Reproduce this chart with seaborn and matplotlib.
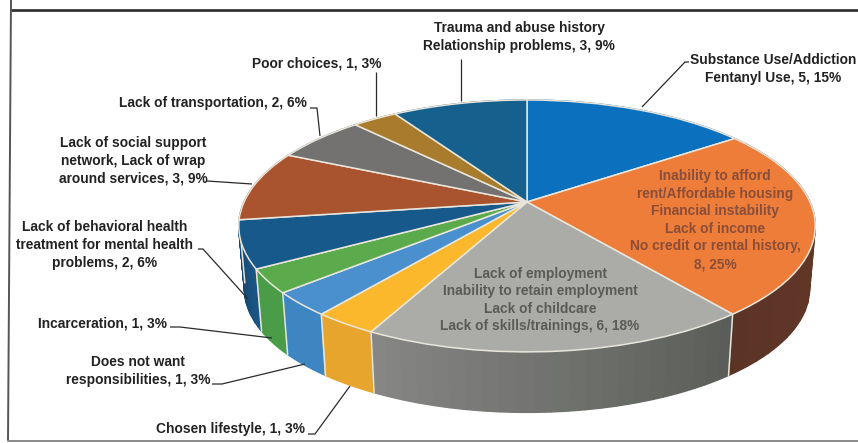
import numpy as np
import matplotlib
matplotlib.use("Agg")
import matplotlib.pyplot as plt
from matplotlib.colors import to_rgb
from matplotlib.transforms import Transform
import seaborn as sns

# Responses per barrier, clockwise from twelve o'clock
counts = [5, 8, 6, 1, 1, 1, 2, 3, 2, 1, 3]

top_colors = ["#0B70BE", "#EE7D3A", "#ABACA8", "#FBB82C", "#4A90CE", "#5BAB4C",
              "#17598A", "#A9532F", "#737270", "#A97C2D", "#15608C"]
# Wall colours at the start and the end of each slice's arc
wall_start = ["#0A5A9A", "#6B3A2A", "#5A5D58", "#E8A52E", "#3E86C2", "#4A9C48",
              "#1B5686", "#7D3F25", "#555555", "#7D5C22", "#104A6C"]
wall_end = ["#0A5A9A", "#5C3426", "#868684", "#E8A52E", "#3E86C2", "#4A9C48",
            "#133F64", "#7D3F25", "#555555", "#7D5C22", "#104A6C"]

outer_labels = [
    "Substance Use/Addiction\nFentanyl Use, 5, 15%",
    "Chosen lifestyle, 1, 3%",
    "Does not want\nresponsibilities, 1, 3%",
    "Incarceration, 1, 3%",
    "Lack of behavioral health\ntreatment for mental health\nproblems, 2, 6%",
    "Lack of social support\nnetwork, Lack of wrap\naround services, 3, 9%",
    "Lack of transportation, 2, 6%",
    "Poor choices, 1, 3%",
    "Trauma and abuse history\nRelationship problems, 3, 9%",
]
outer_label_xy = [(773, 69), (231, 429), (138, 371), (102, 323), (105, 245),
                  (133, 161), (213, 103), (317, 63), (519, 37)]
leader_lines = [
    [(689, 62), (685, 62), (642, 107)],
    [(308, 434), (315, 434), (350, 386)],
    [(212, 384), (222, 384), (305, 364)],
    [(170, 327), (180, 327), (272, 338)],
    [(198, 249), (203, 249), (248, 299)],
    [(207, 181), (252, 184)],
    [(310, 108), (317, 108), (320, 136)],
    [(376, 72), (376, 116)],
    [(461, 59), (461, 101)],
]

orange_label = ("Inability to afford\nrent/Affordable housing\nFinancial instability\n"
                "Lack of income\nNo credit or rental history,\n8, 25%")
gray_label = ("Lack of employment\nInability to retain employment\n"
              "Lack of childcare\nLack of skills/trainings, 6, 18%")

APEX = (527.0, 202.0)
WIDTH, NEAR, FAR_TILT = 283.0, 121.4, 0.19
DEPTH, BASE_SCALE = 63.5, 0.98
LABEL_SIZE = 9.9


class TiltedDisc(Transform):
    """Maps the unit disc onto a receding plane, in figure-pixel data units."""
    input_dims = output_dims = 2

    def __init__(self, scale=1.0, drop=0.0):
        super().__init__()
        self.scale, self.drop = scale, drop

    def transform_non_affine(self, values):
        values = np.asarray(values, dtype=float)
        u, v = values[:, 0], values[:, 1]
        w = 1 + FAR_TILT * v
        return np.column_stack((APEX[0] + self.scale * WIDTH * u / w,
                                APEX[1] + self.drop - self.scale * NEAR * v / w))


sns.set_theme(style="white")
plt.rcParams["font.family"] = ["Liberation Sans", "DejaVu Sans"]

fig = plt.figure(figsize=(8.58, 4.43), dpi=100, facecolor="white")
ax = fig.add_axes([0, 0, 1, 1])

rim = "#E9E6DC"
wedges, _ = ax.pie(counts, colors=sns.color_palette(top_colors), startangle=90,
                   counterclock=False,
                   wedgeprops=dict(edgecolor=rim, linewidth=1.1, zorder=5))
ax.set_aspect("auto")
ax.set_xlim(0, 858)
ax.set_ylim(443, 0)
ax.set_axis_off()

top_plane = TiltedDisc()
base_plane = TiltedDisc(BASE_SCALE, DEPTH)
for wedge in wedges:
    wedge.set_transform(top_plane + ax.transData)

# Side wall: strips along each slice's arc, painted back to front
strips = []
for wedge, c0, c1 in zip(wedges, wall_start, wall_end):
    # Clockwise slices run from theta2 down to theta1
    steps = 24 if c0 != c1 else 2
    edges = np.linspace(wedge.theta2, wedge.theta1, steps)
    shades = np.linspace(0, 1, steps - 1)
    for a, b, f in zip(edges[:-1], edges[1:], shades):
        strips.append((a, b, (1 - f) * np.array(to_rgb(c0)) + f * np.array(to_rgb(c1))))
strips.sort(key=lambda s: -np.sin(np.radians(0.5 * (s[0] + s[1]))))

for a, b, color in strips:
    t = np.radians(np.linspace(a, b, 40))
    ring = np.column_stack((np.cos(t), np.sin(t)))
    upper = top_plane.transform_non_affine(ring)
    lower = base_plane.transform_non_affine(ring)[::-1]
    outline = np.vstack((upper, lower))
    ax.fill(outline[:, 0], outline[:, 1], facecolor=color, edgecolor=color,
            lw=1.0, zorder=2)

# Pale seams where neighbouring slices meet on the visible part of the wall
for wedge in wedges:
    t = np.radians(wedge.theta1)
    if np.sin(t) < -0.05:
        point = np.array([[np.cos(t), np.sin(t)]])
        p0 = top_plane.transform_non_affine(point)[0]
        p1 = base_plane.transform_non_affine(point)[0]
        ax.plot([p0[0], p1[0]], [p0[1], p1[1]], color=rim, lw=1.1, zorder=3)

# Callout labels and their leader lines
for text, (x, y) in zip(outer_labels, outer_label_xy):
    ax.text(x, y, text, ha="center", va="center", fontsize=LABEL_SIZE,
            fontweight="bold", color="#222222", linespacing=1.33, zorder=7)
for line in leader_lines:
    xs, ys = zip(*line)
    ax.plot(xs, ys, color="#2A2A2A", lw=0.9, zorder=6, solid_capstyle="butt")

ax.text(715, 220, orange_label, ha="center", va="center", fontsize=LABEL_SIZE,
        fontweight="bold", color="#8A4E38", linespacing=1.33, zorder=7)
ax.text(540, 300, gray_label, ha="center", va="center", fontsize=LABEL_SIZE,
        fontweight="bold", color="#5A5A58", linespacing=1.33, zorder=7)

# Frame around the chart area
ax.plot([11, 858], [10, 10], color="#333333", lw=2.0, zorder=8)
ax.plot([11, 8], [0, 440], color="#555555", lw=1.4, zorder=8)
ax.plot([8, 858], [441, 441], color="#8A8A8A", lw=1.4, zorder=8)

fig.savefig("out.png", dpi=100, facecolor="white")
